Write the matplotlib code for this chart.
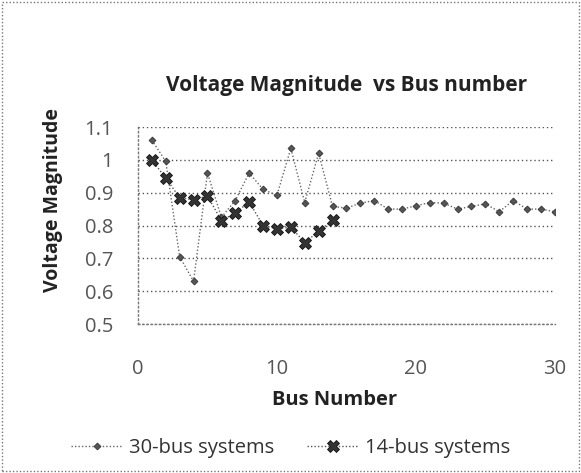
import matplotlib
matplotlib.use('Agg')
import matplotlib.pyplot as plt
from matplotlib.patches import Rectangle
from matplotlib.ticker import FuncFormatter

plt.rcParams['font.family'] = ['Open Sans', 'DejaVu Sans']

# data
bus30 = list(range(1, 31))
v30 = [1.06, 0.995, 0.705, 0.63, 0.96, 0.825, 0.876, 0.96, 0.91, 0.892,
       1.035, 0.87, 1.02, 0.858, 0.853, 0.868, 0.876, 0.85, 0.85, 0.86,
       0.87, 0.868, 0.85, 0.858, 0.866, 0.842, 0.876, 0.85, 0.85, 0.842]
bus14 = list(range(1, 15))
v14 = [1.0, 0.944, 0.885, 0.878, 0.89, 0.815, 0.838, 0.872, 0.80, 0.79,
       0.795, 0.748, 0.782, 0.816]
yticks = [0.5, 0.6, 0.7, 0.8, 0.9, 1.0, 1.1]
xticks = [0, 10, 20, 30]

fig = plt.figure(figsize=(5.81, 4.73), dpi=100)
fig.patches.append(Rectangle((0.004, 0.004), 0.992, 0.992, transform=fig.transFigure,
                             fill=False, ec='#777777', lw=1, ls=(0, (1, 1.5))))
ax = fig.add_axes([0.2375, 0.315, 0.7175, 0.4165])

ax.plot(bus30, v30, ls=(0, (1, 1.5)), color='#666666', lw=1,
        marker='D', ms=3.5, mfc='#555555', mec='#333333', mew=0.6,
        label='30-bus systems')
ax.plot(bus14, v14, ls=(0, (1, 1.5)), color='#555555', lw=1,
        marker='X', ms=8, mfc='#333333', mec='#111111', mew=0.6,
        label='14-bus systems')

ax.set_xlim(0, 30)
ax.set_ylim(0.5, 1.1)
ax.set_xticks(xticks)
ax.set_yticks(yticks)
ax.yaxis.set_major_formatter(FuncFormatter(lambda v, p: '%g' % round(v, 2)))
ax.grid(axis='y', ls=(0, (1, 2)), color='#555555', lw=1)
ax.tick_params(length=0, labelsize=14.5, colors='#555555')
ax.tick_params(axis='x', pad=25)
ax.tick_params(axis='y', pad=18)
for s in ['top', 'right']:
    ax.spines[s].set_visible(False)
for s in ['left', 'bottom']:
    ax.spines[s].set_linestyle((0, (1, 2)))
    ax.spines[s].set_color('#777777')
    ax.spines[s].set_linewidth(1)

ax.set_title('Voltage Magnitude  vs Bus number', fontsize=15, fontweight='bold',
             color='#222222', pad=26)
ax.set_xlabel('Bus Number', fontsize=14.5, fontweight='bold', color='#222222')
ax.xaxis.set_label_coords(0.472, -0.335)
ax.set_ylabel('Voltage Magnitude', fontsize=14, fontweight='bold', color='#222222')
ax.yaxis.set_label_coords(-0.18, 0.63)

fig.legend(loc='center', bbox_to_anchor=(0.5, 0.053), ncol=2, frameon=False,
           fontsize=14.5, labelcolor='#333333', handlelength=2.6, columnspacing=1.6,
           handletextpad=0.3)

fig.savefig('out.png', dpi=100)
